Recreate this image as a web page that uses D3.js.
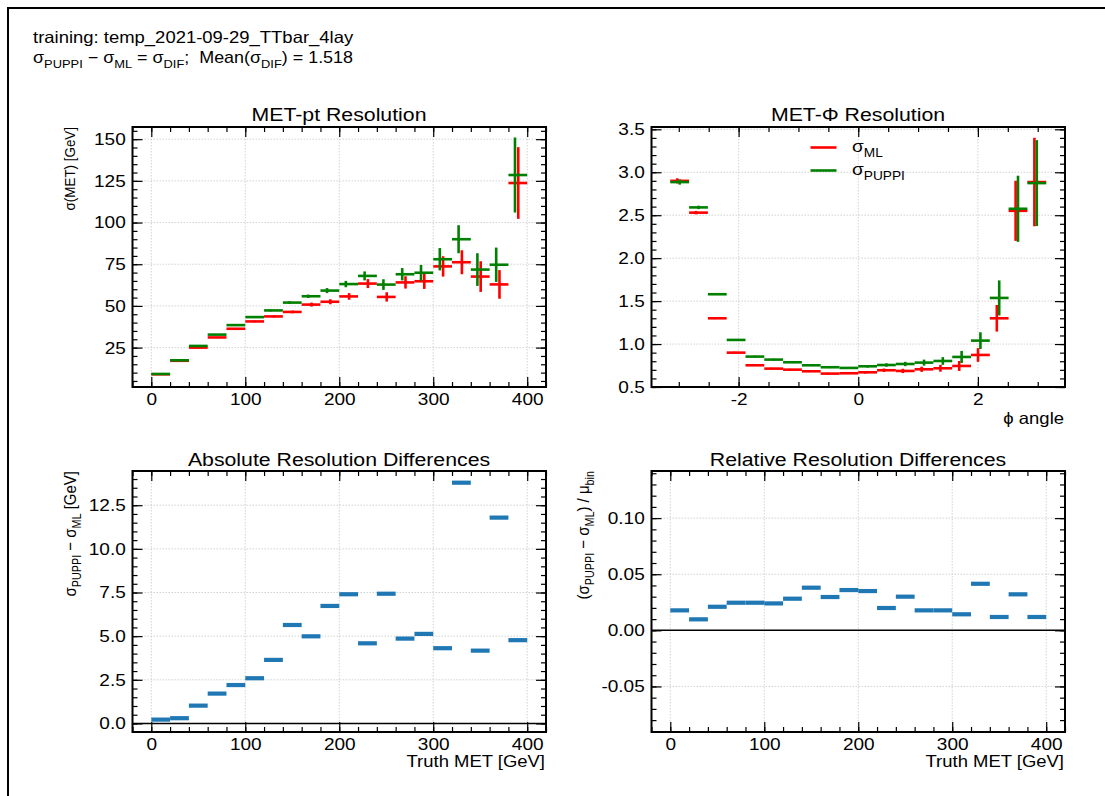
<!DOCTYPE html>
<html>
<head>
<meta charset="utf-8">
<script src="https://cdn.jsdelivr.net/npm/d3@7"></script>
<style>
  body { margin: 0; background: #fff; }
  svg { display: block; font-family: "Liberation Sans", Arial, sans-serif; }
  text { white-space: pre; }
</style>
</head>
<body>
<svg id="fig" width="1105" height="796"></svg>
<script>
// bin edges
var metEdges = [0, 20, 40, 60, 80, 100, 120, 140, 160, 180, 200, 220, 240, 260, 280, 300, 320, 340, 360, 380, 400];
var phiEdges = [-3.1416, -2.8274, -2.5133, -2.1991, -1.8850, -1.5708, -1.2566, -0.9425, -0.6283, -0.3142, 0,
                0.3142, 0.6283, 0.9425, 1.2566, 1.5708, 1.8850, 2.1991, 2.5133, 2.8274, 3.1416];

// MET-pt resolution
var ptML      = [9.0, 17.1, 25.0, 31.1, 36.3, 40.7, 43.7, 46.4, 50.8, 52.5, 55.7, 63.4, 55.4, 64.1, 64.8, 73.7, 76.2, 67.6, 62.9, 123.7];
var ptPUPPI   = [9.2, 17.4, 26.0, 32.8, 38.5, 43.3, 47.3, 52.0, 55.8, 59.2, 63.1, 68.0, 62.8, 69.0, 69.9, 78.0, 90.0, 71.8, 74.7, 128.5];
var ptErrML   = [0.3, 0.3, 0.4, 0.4, 0.5, 0.5, 0.6, 0.8, 1.2, 1.5, 2.0, 2.7, 2.8, 3.7, 4.6, 6.1, 7.2, 9.2, 8.6, 21.5];
var ptErrPUPPI= [0.3, 0.3, 0.4, 0.4, 0.5, 0.5, 0.6, 0.8, 1.0, 1.5, 1.9, 2.7, 3.2, 3.7, 4.7, 6.7, 8.4, 9.8, 10.3, 22.5];

// MET-phi resolution
var phiML      = [2.90, 2.53, 1.30, 0.90, 0.753, 0.714, 0.702, 0.683, 0.656, 0.660, 0.671, 0.695, 0.687, 0.706, 0.718, 0.745, 0.873, 1.30, 2.551, 2.886];
var phiPUPPI   = [2.886, 2.591, 1.580, 1.048, 0.854, 0.819, 0.788, 0.753, 0.730, 0.722, 0.741, 0.756, 0.768, 0.784, 0.803, 0.850, 1.040, 1.537, 2.575, 2.874];
var phiErrML   = [0.03, 0.02, 0.01, 0.01, 0.01, 0.01, 0.01, 0.01, 0.01, 0.01, 0.015, 0.02, 0.025, 0.03, 0.04, 0.058, 0.08, 0.155, 0.35, 0.515];
var phiErrPUPPI= [0.03, 0.02, 0.01, 0.01, 0.01, 0.01, 0.01, 0.01, 0.01, 0.012, 0.015, 0.02, 0.025, 0.035, 0.045, 0.07, 0.097, 0.204, 0.385, 0.50];

// differences
var absDiff = [0.22, 0.30, 1.02, 1.71, 2.20, 2.59, 3.64, 5.64, 4.99, 6.73, 7.40, 4.59, 7.43, 4.86, 5.13, 4.31, 13.79, 4.17, 11.79, 4.77];
var relDiff = [0.0178, 0.0098, 0.0210, 0.0246, 0.0246, 0.0240, 0.0282, 0.0380, 0.0297, 0.0359, 0.0350, 0.0199, 0.0300, 0.0178, 0.0178, 0.0143, 0.0415, 0.0119, 0.0321, 0.0119];

// tick values
var metTicks = [0, 100, 200, 300, 400];
var phiTicks = [-2, 0, 2];
var ptTicks  = [25, 50, 75, 100, 125, 150];
var phiYTicks= [0.5, 1.0, 1.5, 2.0, 2.5, 3.0, 3.5];
var absTicks = [0, 2.5, 5, 7.5, 10, 12.5];
var relTicks = [-0.05, 0, 0.05, 0.10];

var SX = 1.12;   // the picture is a little wider than tall, text looks stretched
var RED = "#ff0000", GREEN = "#008000", BLUE = "#1f77b4";

var svg = d3.select("#fig");
svg.append("rect").attr("width", 1105).attr("height", 796).attr("fill", "#fff");

// outer frame (only left and top edges visible)
svg.append("path").attr("d", "M8,796V8H1105").attr("fill", "none").attr("stroke", "#000").attr("stroke-width", 2);

function minorRange(a, b, step) {
    // minor tick positions between the axis limits
    var out = [];
    var start = Math.ceil(a / step - 1e-9);
    for (var k = start; k * step <= b + 1e-9; k++) out.push(+(k * step).toFixed(6));
    return out;
}

// text that can hold subscripts: parts = [[string, isSub], ...]
function rich(sel, parts, size) {
    var shift = size * 0.32;
    var inSub = false;
    parts.forEach(function (p) {
        var t = sel.append("tspan").text(p[0]);
        if (p[1]) {
            t.attr("font-size", size * 0.72);
            if (!inSub) t.attr("dy", shift);
            inSub = true;
        } else {
            if (inSub) t.attr("dy", -shift);
            inSub = false;
        }
    });
    return sel;
}

function label(x, y, size, anchor, rotate) {
    return svg.append("text")
        .attr("transform", "translate(" + x + "," + y + ") scale(" + SX + ",1)" + (rotate ? " rotate(-90)" : ""))
        .attr("font-size", size)
        .attr("text-anchor", anchor)
        .attr("fill", "#000");
}

function panel(box, xDom, yDom, xMajor, yMajor, xStep, yStep, xFmt, yFmt) {
    var g = svg.append("g").attr("transform", "translate(" + box.x + "," + box.y + ")");
    var x = d3.scaleLinear().domain(xDom).range([0, box.w]);
    var y = d3.scaleLinear().domain(yDom).range([box.h, 0]);

    // grid
    var grid = g.append("g").attr("stroke", "#c8c8c8").attr("stroke-width", 0.8).attr("stroke-dasharray", "1.5,1.5");
    grid.selectAll("line.gx").data(xMajor).join("line").attr("class", "gx")
        .attr("x1", function (d) { return x(d); }).attr("x2", function (d) { return x(d); })
        .attr("y1", 0).attr("y2", box.h);
    grid.selectAll("line.gy").data(yMajor).join("line").attr("class", "gy")
        .attr("y1", function (d) { return y(d); }).attr("y2", function (d) { return y(d); })
        .attr("x1", 0).attr("x2", box.w);

    var xMinor = minorRange(xDom[0], xDom[1], xStep);
    var yMinor = minorRange(yDom[0], yDom[1], yStep);

    function addAxis(axis, tr, labelled) {
        var a = g.append("g").attr("transform", tr).call(axis);
        a.select(".domain").remove();
        a.selectAll(".tick line").attr("stroke", "#000").attr("stroke-width", 1.2);
        a.attr("font-size", 17).attr("font-family", null);
        a.selectAll("text").attr("fill", "#000").attr("transform", "scale(" + SX + ",1)");
        return a;
    }
    // minor ticks all round
    addAxis(d3.axisBottom(x).tickValues(xMinor).tickSize(-5).tickFormat(""), "translate(0," + box.h + ")");
    addAxis(d3.axisTop(x).tickValues(xMinor).tickSize(-5).tickFormat(""), "translate(0,0)");
    addAxis(d3.axisLeft(y).tickValues(yMinor).tickSize(-5).tickFormat(""), "translate(0,0)");
    addAxis(d3.axisRight(y).tickValues(yMinor).tickSize(-5).tickFormat(""), "translate(" + box.w + ",0)");
    // major ticks
    addAxis(d3.axisBottom(x).tickValues(xMajor).tickSize(-10).tickPadding(6).tickFormat(xFmt), "translate(0," + box.h + ")");
    addAxis(d3.axisTop(x).tickValues(xMajor).tickSize(-10).tickFormat(""), "translate(0,0)");
    addAxis(d3.axisLeft(y).tickValues(yMajor).tickSize(-10).tickPadding(6).tickFormat(yFmt), "translate(0,0)");
    addAxis(d3.axisRight(y).tickValues(yMajor).tickSize(-10).tickFormat(""), "translate(" + box.w + ",0)");

    var marks = g.append("g");
    g.append("rect").attr("width", box.w).attr("height", box.h)
        .attr("fill", "none").attr("stroke", "#000").attr("stroke-width", 2);
    return { g: marks, x: x, y: y, box: box };
}

function fmtDash(f) {
    return function (d) { return d3.format(f)(d).replace("\u2212", "-"); };
}

function errorbars(p, edges, vals, errs, color, dx) {
    var rows = vals.map(function (v, i) {
        return { lo: edges[i], hi: edges[i + 1], c: (edges[i] + edges[i + 1]) / 2, v: v, e: errs[i] };
    });
    var gg = p.g.append("g").attr("stroke", color).attr("stroke-width", 2.6);
    gg.selectAll("line.h").data(rows).join("line").attr("class", "h")
        .attr("x1", function (d) { return p.x(d.lo); }).attr("x2", function (d) { return p.x(d.hi); })
        .attr("y1", function (d) { return p.y(d.v); }).attr("y2", function (d) { return p.y(d.v); });
    gg.selectAll("line.v").data(rows).join("line").attr("class", "v")
        .attr("x1", function (d) { return p.x(d.c + dx); }).attr("x2", function (d) { return p.x(d.c + dx); })
        .attr("y1", function (d) { return p.y(d.v - d.e); }).attr("y2", function (d) { return p.y(d.v + d.e); });
}

function bars(p, edges, vals) {
    var rows = vals.map(function (v, i) { return { lo: edges[i], hi: edges[i + 1], v: v }; });
    p.g.append("line").attr("x1", 0).attr("x2", p.box.w).attr("y1", p.y(0)).attr("y2", p.y(0))
        .attr("stroke", "#000").attr("stroke-width", 1.5);
    p.g.append("g").attr("stroke", BLUE).attr("stroke-width", 4.2)
        .selectAll("line").data(rows).join("line")
        .attr("x1", function (d) { return p.x(d.lo); }).attr("x2", function (d) { return p.x(d.hi); })
        .attr("y1", function (d) { return p.y(d.v); }).attr("y2", function (d) { return p.y(d.v); });
}

// ---- header ----
label(33, 43, 16.5, "start").text("training: temp_2021-09-29_TTbar_4lay");
rich(label(33, 63, 16, "start"), [["\u03c3", 0], ["PUPPI", 1], [" \u2212 \u03c3", 0], ["ML", 1], [" = \u03c3", 0], ["DIF", 1],
    [";  Mean(\u03c3", 0], ["DIF", 1], [") = 1.518", 0]], 16);

// ---- panels ----
var pTL = panel({ x: 132.5, y: 127, w: 413.5, h: 260 }, [-20, 420], [1.38, 157.3],
    metTicks, ptTicks, 20, 5, d3.format("d"), d3.format("d"));
errorbars(pTL, metEdges, ptML, ptErrML, RED, 0.5);
errorbars(pTL, metEdges, ptPUPPI, ptErrPUPPI, GREEN, -3);

var pTR = panel({ x: 651.5, y: 127, w: 413.5, h: 260 }, [-3.456, 3.456], [0.5, 3.527],
    phiTicks, phiYTicks, 0.5, 0.1, fmtDash("d"), d3.format(".1f"));
errorbars(pTR, phiEdges, phiML, phiErrML, RED, -0.04);
errorbars(pTR, phiEdges, phiPUPPI, phiErrPUPPI, GREEN, 0);

var pBL = panel({ x: 132.5, y: 471, w: 413.5, h: 261 }, [-20, 420], [-0.49, 14.46],
    metTicks, absTicks, 20, 0.5, d3.format("d"), d3.format(".1f"));
bars(pBL, metEdges, absDiff);

var pBR = panel({ x: 651.5, y: 471, w: 413.5, h: 261 }, [-20, 420], [-0.0906, 0.142],
    metTicks, relTicks, 20, 0.01, d3.format("d"), fmtDash(".2f"));
bars(pBR, metEdges, relDiff);

// ---- legend (top right) ----
var legendNames = [["ML"], ["PUPPI"]];
var legendColors = [RED, GREEN];
legendNames.forEach(function (n, i) {
    var ly = 147.5 + i * 23;
    svg.append("line").attr("x1", 810.5).attr("x2", 836.5).attr("y1", ly).attr("y2", ly)
        .attr("stroke", legendColors[i]).attr("stroke-width", 2.6);
    rich(label(852, ly + 4, 17, "start"), [["\u03c3", 0], [n[0], 1]], 17);
});

// ---- titles ----
label(339, 121, 19, "middle").text("MET-pt Resolution");
label(858, 121, 19, "middle").text("MET-\u03a6 Resolution");
label(339, 466, 19, "middle").text("Absolute Resolution Differences");
label(858, 466, 19, "middle").text("Relative Resolution Differences");

// ---- axis labels ----
label(1064, 424, 16.5, "end").text("\u03d5 angle");
label(545, 767, 16.5, "end").text("Truth MET [GeV]");
label(1064, 767, 16.5, "end").text("Truth MET [GeV]");

label(75, 127, 13.4, "end", true).text("\u03c3(MET) [GeV]");
rich(label(76, 471, 15, "end", true), [["\u03c3", 0], ["PUPPI", 1], [" \u2212 \u03c3", 0], ["ML", 1], [" [GeV]", 0]], 15);
rich(label(589, 471, 15, "end", true), [["(\u03c3", 0], ["PUPPI", 1], [" \u2212 \u03c3", 0], ["ML", 1], [") / \u03bc", 0], ["bin", 1]], 15);
</script>
</body>
</html>
